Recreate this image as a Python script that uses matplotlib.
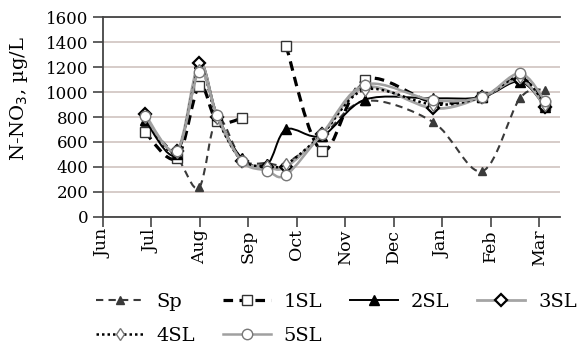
import numpy as np
import matplotlib
matplotlib.use("Agg")
import matplotlib.pyplot as plt
from matplotlib.path import Path
from matplotlib.patches import PathPatch
from matplotlib.lines import Line2D

plt.rcParams['font.family'] = ['DejaVu Serif']

# sampling dates, in months counted from 1 June
t = [0.87, 1.53, 1.99, 2.36, 2.87, 3.39, 3.78, 4.52, 5.41, 6.81, 7.82, 8.60, 9.12]
months = ['Jun', 'Jul', 'Aug', 'Sep', 'Oct', 'Nov', 'Dec', 'Jan', 'Feb', 'Mar']

sp   = [750, 480, 235, 790, 460, 430, 430, 640, 930, 760, 365, 950, 1020]
sl1  = [680, 470, 1050, 765, 790, np.nan, 1370, 530, 1100, 920, 960, 1110, 900]
sl2  = [780, 500, 1230, 820, 470, 420, 700, 650, 940, 950, 960, 1085, 880]
sl3  = [825, 530, 1230, 800, 450, 400, 400, 660, 1040, 870, 960, 1100, 880]
sl4  = [800, 520, 1180, 790, 450, 410, 420, 660, 1020, 900, 960, 1120, 900]
sl5  = [810, 530, 1165, 815, 445, 370, 335, 665, 1060, 935, 960, 1150, 925]


def smooth_path(x, y):
    # Catmull-Rom style bezier through the points, broken at missing values
    x = np.asarray(x, float)
    y = np.asarray(y, float)
    verts, codes = [], []
    ok = ~np.isnan(y)
    i = 0
    while i < len(x):
        if not ok[i]:
            i += 1
            continue
        j = i
        while j < len(x) and ok[j]:
            j += 1
        p = np.column_stack([x[i:j], y[i:j]])
        n = len(p)
        if n > 1:
            verts.append(p[0]); codes.append(Path.MOVETO)
            for k in range(n - 1):
                a = p[k - 1] if k > 0 else p[k]
                d = p[k + 2] if k + 2 < n else p[k + 1]
                c1 = p[k] + (p[k + 1] - a) / 6
                c2 = p[k + 1] - (d - p[k]) / 6
                verts += [c1, c2, p[k + 1]]
                codes += [Path.CURVE4] * 3
        i = j
    return Path(verts, codes)


styles = [
    ('Sp', sp, dict(color='#3a3a3a', lw=1.5, ls=(0, (3.5, 2.5))),
     dict(marker='^', ms=5.5, mfc='#3a3a3a', mec='#3a3a3a')),
    ('1SL', sl1, dict(color='black', lw=2.3, ls=(0, (3, 2))),
     dict(marker='s', ms=7.5, mfc='white', mec='#333333', mew=1.0)),
    ('2SL', sl2, dict(color='black', lw=1.4, ls='-'),
     dict(marker='^', ms=6.5, mfc='black', mec='black')),
    ('3SL', sl3, dict(color='#a5a5a5', lw=2.0, ls='-'),
     dict(marker='D', ms=6.5, mfc='white', mec='black', mew=1.6)),
    ('4SL', sl4, dict(color='black', lw=1.8, ls=(0, (1, 1.2))),
     dict(marker='d', ms=6, mfc='white', mec='#777777', mew=1.0)),
    ('5SL', sl5, dict(color='#a0a0a0', lw=1.8, ls='-'),
     dict(marker='o', ms=7.5, mfc='white', mec='#777777', mew=1.0)),
]

fig = plt.figure(figsize=(5.86, 3.47), dpi=100)
ax = fig.add_axes([0.175, 0.3755, 0.781, 0.5745])

handles = []
for z, (name, vals, lst, mst) in enumerate(styles):
    patch = PathPatch(smooth_path(t, vals), facecolor='none', edgecolor=lst['color'],
                      lw=lst['lw'], linestyle=lst['ls'], zorder=3 + z)
    ax.add_patch(patch)
    ax.plot(t, vals, ls='none', zorder=3.5 + z, **mst)
    handles.append(Line2D([], [], color=lst['color'], lw=lst['lw'],
                          linestyle=lst['ls'], **mst))

ax.set_xlim(0, 9.43)
ax.set_ylim(0, 1600)
ax.set_yticks(range(0, 1601, 200))
ax.set_xticks(range(len(months)))
ax.set_xticklabels(months, rotation=90, fontsize=12.5)
ax.tick_params(axis='y', labelsize=12, length=7, width=1.2, color='#444444', pad=3)
ax.tick_params(axis='x', length=7, width=1.2, color='#444444', pad=2)
ax.grid(axis='y', color='#cbbfbb', lw=1.1)
ax.set_axisbelow(True)
for s in ['left', 'bottom', 'top']:
    ax.spines[s].set_color('#444444')
    ax.spines[s].set_linewidth(1.3)
ax.spines['right'].set_visible(False)
ax.set_ylabel('N-NO$_3$, µg/L', fontsize=14)
ax.yaxis.set_label_coords(-0.158, 0.59)

# legend filled row by row: 4 entries in the first row, 2 in the second
order = [0, 4, 1, 5, 2, 3]
fig.legend(handles=[handles[i] for i in order],
           labels=[styles[i][0] for i in order], ncol=4,
           loc='upper left', bbox_to_anchor=(0.163, 0.155), frameon=False,
           fontsize=14, handlelength=2.5, columnspacing=1.4, handletextpad=0.65,
           labelspacing=0.8, borderaxespad=0, borderpad=0)

fig.savefig('out.png', dpi=100)
